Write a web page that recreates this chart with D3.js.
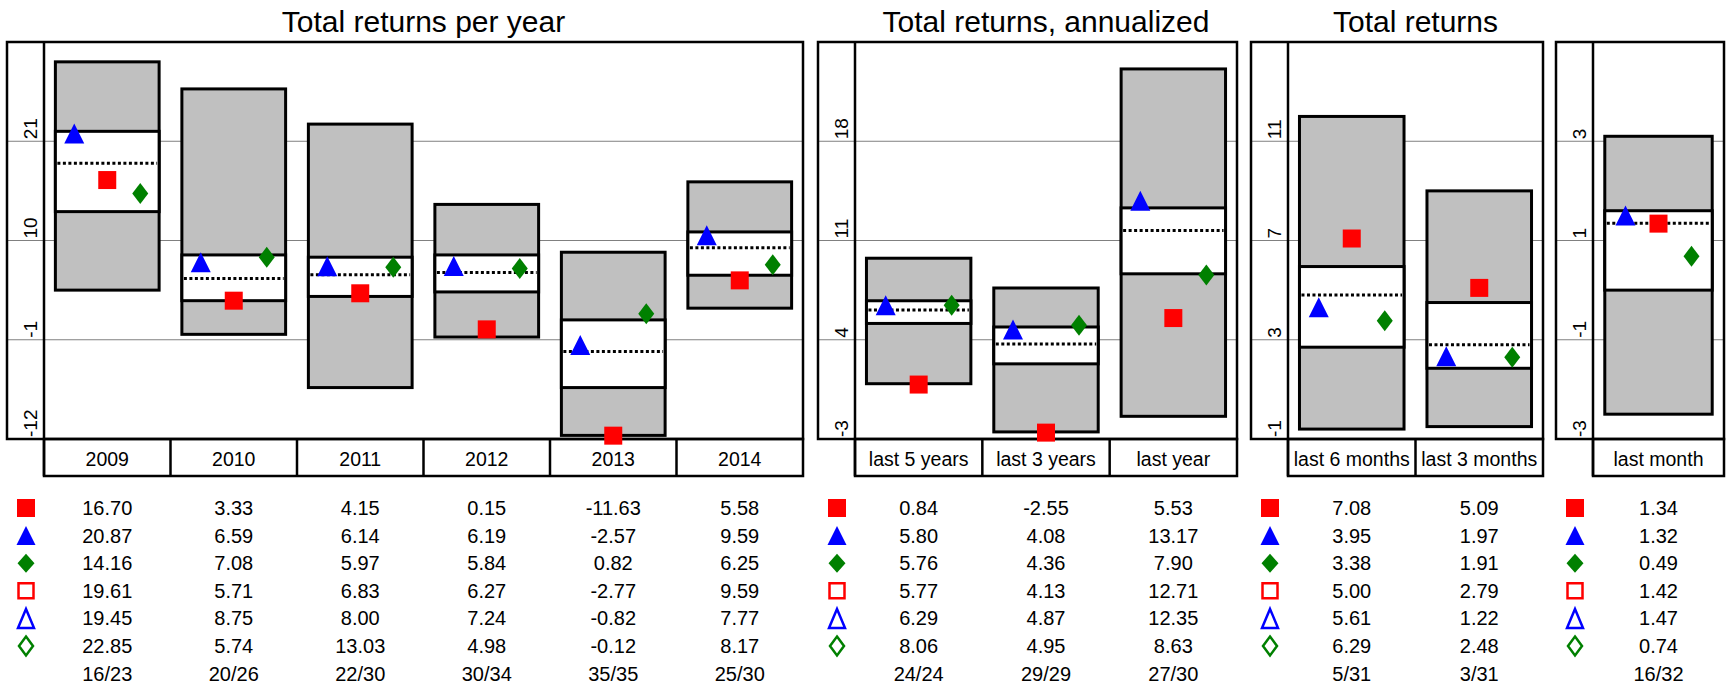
<!DOCTYPE html>
<html><head><meta charset="utf-8">
<script src="https://cdn.jsdelivr.net/npm/d3@7"></script>
<style>body{margin:0;background:#fff} text{font-family:"Liberation Sans", Arial, sans-serif; fill:#000}</style>
</head><body><svg id="c" width="1731" height="698"></svg>
<script>
// ---------- data ----------
const panelTitles = ["Total returns per year", "Total returns, annualized", "Total returns", ""];
const categories = ["2009","2010","2011","2012","2013","2014","last 5 years","last 3 years","last year","last 6 months","last 3 months","last month"];
const panelOf = [0,0,0,0,0,0,1,1,1,2,2,3];
const yDomains = [[-12,32],[-3,25],[-1,15],[-3,5]];
const yTicks = [[-12,-1,10,21],[-3,4,11,18],[-1,3,7,11],[-3,-1,1,3]];
const rangeLow    = [4.5, -0.4, -6.3, -0.7, -11.6, 2.5,   0.9, -2.5, -1.4,   -0.6, -0.5,  -2.5];
const rangeHigh   = [29.8, 26.8, 22.9, 14.0, 8.7, 16.5,   9.75, 7.65, 23.1,  12.0, 9.0,   3.1];
const quartileLow = [13.2, 3.33, 3.8, 4.3, -6.3, 6.15,    5.15, 2.3, 8.65,   2.7, 1.85,   0.0];
const quartileHigh= [22.1, 8.4, 8.15, 8.4, 1.2, 10.95,    6.75, 4.9, 13.3,   5.95, 4.5,   1.6];
const medianVal   = [18.55, 5.8, 6.2, 6.45, -2.3, 9.2,    6.1, 3.7, 11.7,    4.8, 2.8,    1.35];
const fundSquare    = [16.70, 3.33, 4.15, 0.15, -11.63, 5.58,  0.84, -2.55, 5.53,  7.08, 5.09,  1.34];
const benchTriangle = [20.87, 6.59, 6.14, 6.19, -2.57, 9.59,   5.80, 4.08, 13.17,  3.95, 1.97,  1.32];
const peerDiamond   = [14.16, 7.08, 5.97, 5.84, 0.82, 6.25,    5.76, 4.36, 7.90,   3.38, 1.91,  0.49];
const openSquare    = [19.61, 5.71, 6.83, 6.27, -2.77, 9.59,   5.77, 4.13, 12.71,  5.00, 2.79,  1.42];
const openTriangle  = [19.45, 8.75, 8.00, 7.24, -0.82, 7.77,   6.29, 4.87, 12.35,  5.61, 1.22,  1.47];
const openDiamond   = [22.85, 5.74, 13.03, 4.98, -0.12, 8.17,  8.06, 4.95, 8.63,   6.29, 2.48,  0.74];
const ranks = ["16/23","20/26","22/30","30/34","35/35","25/30","24/24","29/29","27/30","5/31","3/31","16/32"];

// ---------- layout ----------
const panelX = [[7,803],[818,1237],[1251,1543],[1556,1724]];
const strip = 37, plotTop = 42, plotBottom = 439, labelBottom = 476;
const RED = "#ff0000", BLUE = "#0000ff", GREEN = "#008000", GRAY = "#c0c0c0";
const svg = d3.select("#c");

function sq(s){ return `M${-s/2},${-s/2}h${s}v${s}h${-s}Z`; }
function tri(w,h){ return `M0,${-h}L${w/2},0L${-w/2},0Z`; }
function dia(w,h){ return `M0,${-h}L${w/2},${-h/2}L0,0L${-w/2},${-h/2}Z`; }

const rowY0 = 508, rowStep = 27.6;
const tableSeries = [
  {vals: fundSquare, kind: "sq", fill: RED},
  {vals: benchTriangle, kind: "tri", fill: BLUE},
  {vals: peerDiamond, kind: "dia", fill: GREEN},
  {vals: openSquare, kind: "sq", stroke: RED},
  {vals: openTriangle, kind: "tri", stroke: BLUE},
  {vals: openDiamond, kind: "dia", stroke: GREEN},
];

panelTitles.forEach((title, p) => {
  const [x0, x1] = panelX[p];
  const px0 = x0 + strip;
  const idx = categories.map((c,i)=>i).filter(i => panelOf[i] === p);
  const x = d3.scaleBand().domain(idx).range([px0, x1]).padding(0);
  const y = d3.scaleLinear().domain(yDomains[p]).range([plotBottom, plotTop]);
  const g = svg.append("g");
  const bw = x.bandwidth();

  g.selectAll("line.grid").data(yTicks[p].filter(t => y(t) < plotBottom - 2)).join("line")
    .attr("x1", x0).attr("x2", x1).attr("y1", d => y(d)).attr("y2", d => y(d))
    .attr("stroke", "#808080").attr("stroke-width", 1);

  g.selectAll("text.tick").data(yTicks[p]).join("text")
    .attr("transform", d => `translate(${px0 - 7},${y(d) - 2}) rotate(-90)`)
    .attr("text-anchor", "start").attr("font-size", 19).text(d => d);

  if (title) g.append("text").attr("x", (px0 + x1)/2).attr("y", 32)
    .attr("text-anchor", "middle").attr("font-size", 30).text(title);

  const boxW = bw * 0.82;
  g.selectAll("rect.range").data(idx).join("rect")
    .attr("x", d => x(d) + (bw - boxW)/2).attr("width", boxW)
    .attr("y", d => y(rangeHigh[d])).attr("height", d => y(rangeLow[d]) - y(rangeHigh[d]))
    .attr("fill", GRAY).attr("stroke", "#000").attr("stroke-width", 3);
  g.selectAll("rect.q").data(idx).join("rect")
    .attr("x", d => x(d) + (bw - boxW)/2).attr("width", boxW)
    .attr("y", d => y(quartileHigh[d])).attr("height", d => y(quartileLow[d]) - y(quartileHigh[d]))
    .attr("fill", "#fff").attr("stroke", "#000").attr("stroke-width", 3);
  g.selectAll("line.med").data(idx).join("line")
    .attr("x1", d => x(d) + (bw - boxW)/2 + 2).attr("x2", d => x(d) + (bw + boxW)/2 - 2)
    .attr("y1", d => y(medianVal[d])).attr("y2", d => y(medianVal[d]))
    .attr("stroke", "#000").attr("stroke-width", 3).attr("stroke-dasharray", "3,2.5");

  g.append("rect").attr("x", x0).attr("y", plotTop).attr("width", x1 - x0).attr("height", plotBottom - plotTop)
    .attr("fill", "none").attr("stroke", "#000").attr("stroke-width", 2.5);
  g.append("line").attr("x1", px0).attr("x2", px0).attr("y1", plotTop).attr("y2", labelBottom)
    .attr("stroke", "#000").attr("stroke-width", 2.5);
  g.append("rect").attr("x", px0).attr("y", plotBottom).attr("width", x1 - px0).attr("height", labelBottom - plotBottom)
    .attr("fill", "none").attr("stroke", "#000").attr("stroke-width", 2.5);
  g.selectAll("line.div").data(idx.slice(1)).join("line")
    .attr("x1", d => x(d)).attr("x2", d => x(d)).attr("y1", plotBottom).attr("y2", labelBottom)
    .attr("stroke", "#000").attr("stroke-width", 2.5);
  g.selectAll("text.cat").data(idx).join("text")
    .attr("x", d => x(d) + bw/2).attr("y", 466).attr("text-anchor", "middle")
    .attr("font-size", 19.5).text(d => categories[d]);

  const off = 33;
  g.selectAll("path.tri").data(idx).join("path")
    .attr("transform", d => `translate(${x(d) + bw/2 - off},${y(benchTriangle[d]) + 1})`)
    .attr("d", tri(20, 20)).attr("fill", BLUE);
  g.selectAll("path.sq").data(idx).join("path")
    .attr("transform", d => `translate(${x(d) + bw/2},${y(fundSquare[d])})`)
    .attr("d", sq(18)).attr("fill", RED);
  g.selectAll("path.dia").data(idx).join("path")
    .attr("transform", d => `translate(${x(d) + bw/2 + off},${y(peerDiamond[d]) + 1})`)
    .attr("d", dia(16, 21)).attr("fill", GREEN);

  tableSeries.forEach((s, r) => {
    const cy = rowY0 + r * rowStep;
    const shape = s.kind === "sq" ? sq(s.fill ? 18 : 15) : s.kind === "tri" ? tri(s.fill ? 19 : 16, 19) : dia(s.fill ? 17 : 14, 19);
    const dy = s.kind === "sq" ? 0 : 9.5;
    g.append("path").attr("transform", `translate(${x0 + 19},${cy + dy})`).attr("d", shape)
      .attr("fill", s.fill || "none").attr("stroke", s.stroke || "none").attr("stroke-width", 2.5);
    g.selectAll(null).data(idx).join("text")
      .attr("x", d => x(d) + bw/2).attr("y", cy + 7).attr("text-anchor", "middle")
      .attr("font-size", 20).text(d => s.vals[d].toFixed(2));
  });
  g.selectAll(null).data(idx).join("text")
    .attr("x", d => x(d) + bw/2).attr("y", rowY0 + 6 * rowStep + 7).attr("text-anchor", "middle")
    .attr("font-size", 20).text(d => ranks[d]);
});
</script></body></html>
